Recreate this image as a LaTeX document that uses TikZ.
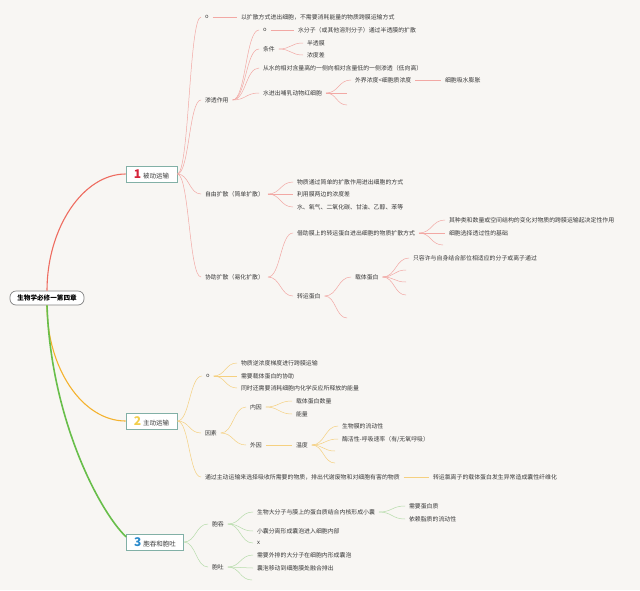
\documentclass[tikz,border=0pt]{standalone}
\usepackage{fontspec}
\setmainfont{Noto Sans CJK SC}
\usepackage{tikz}
\usetikzlibrary{calc}
\usepackage{xcolor}
\definecolor{bgPaper}{RGB}{248, 246, 243}
\definecolor{inkGray}{RGB}{58, 58, 58}
\definecolor{rootFrame}{RGB}{130, 130, 130}
\definecolor{boxFrame}{RGB}{130, 176, 166}
\definecolor{rootRed}{RGB}{238, 108, 96}
\definecolor{rootOrange}{RGB}{244, 178, 46}
\definecolor{rootGreen}{RGB}{104, 190, 74}
\definecolor{lnRed}{RGB}{242, 168, 164}
\definecolor{lnYellow}{RGB}{245, 208, 128}
\definecolor{lnGreen}{RGB}{182, 220, 170}
\definecolor{numA}{RGB}{214, 36, 58}
\definecolor{numB}{RGB}{242, 206, 76}
\definecolor{numC}{RGB}{42, 138, 203}
\newcommand{\numtag}[2]{\textcolor{#1}{\fontsize{12}{12}\selectfont\bfseries #2}}

\begin{document}
\begin{tikzpicture}[x=1pt, y=-1pt,
  leaf/.style={anchor=west, inner sep=1pt, outer xsep=3pt,
    font=\fontsize{5.9}{7}\selectfont, text=inkGray},
  topic/.style={draw=boxFrame, fill=white, line width=0.7pt, minimum height=16pt,
    inner xsep=3pt, inner ysep=1pt, font=\fontsize{6.5}{8}\selectfont, text=inkGray},
  link/.style={line width=0.5pt,
    to path={.. controls ($(\tikztostart)!0.5!(\tikztostart -| \tikztotarget)$)
      and ($(\tikztotarget)!0.5!(\tikztotarget -| \tikztostart)$) .. (\tikztotarget)}}]
  \fill[bgPaper] (0,0) rectangle (640,590);
  \useasboundingbox (0,0) rectangle (640,590);

  \node[draw=rootFrame, fill=white, rounded corners=6pt, line width=0.7pt,
    minimum width=74pt, minimum height=14pt, inner sep=1pt,
    font=\fontsize{6.6}{8}\selectfont\bfseries, text=black] (root) at (47,298) {生物学必修一第四章};

  \node[topic, minimum width=51pt] (pas) at (151.5,174) {\numtag{numA}{1}\,\,被动运输};
  \node[topic, minimum width=51pt] (act) at (151.5,421) {\numtag{numB}{2}\,\,主动运输};
  \node[topic, minimum width=57pt] (cyt) at (155,542) {\numtag{numC}{3}\,\,胞吞和胞吐};

  \draw[rootRed, line width=1.1pt] (root.north) .. controls (47,228) and (83,174) .. (pas.west);
  \draw[rootOrange, line width=1.1pt] (root.south) .. controls (47,369) and (83,421) .. (act.west);
  \draw[rootGreen, line width=1.6pt] (root.south) .. controls (51,420) and (100,512) .. (cyt.170);

  % 被动运输
  \node[leaf] (p1) at (201,17) {o};
  \node[leaf] (p1a) at (237,17) {以扩散方式进出细胞，不需要消耗能量的物质跨膜运输方式};
  \node[leaf] (osm) at (201,100) {渗透作用};
  \node[leaf] (osmO) at (259,30) {o};
  \node[leaf] (osmO1) at (294,30) {水分子（或其他溶剂分子）通过半透膜的扩散};
  \node[leaf] (cond) at (259,49) {条件};
  \node[leaf] (cond1) at (303,43) {半透膜};
  \node[leaf] (cond2) at (303,55) {浓度差};
  \node[leaf] (osmDir) at (259,68) {从水的相对含量高的一侧向相对含量低的一侧渗透（低向高）};
  \node[leaf] (rbc) at (259,93) {水进出哺乳动物红细胞};
  \node[leaf] (rbc1) at (351,80) {外界浓度<细胞质浓度};
  \node[leaf] (rbc1a) at (441,80) {细胞吸水膨胀};
  \coordinate (rbcE1) at (347,93);
  \coordinate (rbcE2) at (347,105);
  \node[leaf] (free) at (201,194) {自由扩散（简单扩散）};
  \node[leaf] (free1) at (293,182) {物质通过简单的扩散作用进出细胞的方式};
  \node[leaf] (free2) at (293,194) {利用膜两边的浓度差};
  \node[leaf] (free3) at (293,207) {水、氧气、二氧化碳、甘油、乙醇、苯等};
  \node[leaf] (fac) at (201,277) {协助扩散（易化扩散）};
  \node[leaf] (fac1) at (293,233) {借助膜上的转运蛋白进出细胞的物质扩散方式};
  \node[leaf] (fac1a) at (445,220) {其种类和数量或空间结构的变化对物质的跨膜运输起决定性作用};
  \node[leaf] (fac1b) at (445,233) {细胞选择透过性的基础};
  \coordinate (fac1E) at (443,245);
  \node[leaf] (fac2) at (293,296) {转运蛋白};
  \node[leaf] (carrier) at (351,277) {载体蛋白};
  \node[leaf] (carrier1) at (409,258) {只容许与自身结合部位相适应的分子或离子通过};
  \coordinate (carE1) at (406,270);
  \coordinate (carE2) at (406,282);
  \coordinate (carE3) at (406,295);
  \coordinate (fac2E) at (347,318);

  \draw[link, lnRed] (pas.east) to (p1.west);
  \draw[link, lnRed] (pas.east) to (osm.west);
  \draw[link, lnRed] (pas.east) to (free.west);
  \draw[link, lnRed] (pas.east) to (fac.west);
  \draw[link, lnRed] (p1.east) to (p1a.west);
  \draw[link, lnRed] (osm.east) to (osmO.west);
  \draw[link, lnRed] (osm.east) to (cond.west);
  \draw[link, lnRed] (osm.east) to (osmDir.west);
  \draw[link, lnRed] (osm.east) to (rbc.west);
  \draw[link, lnRed] (osmO.east) to (osmO1.west);
  \draw[link, lnRed] (cond.east) to (cond1.west);
  \draw[link, lnRed] (cond.east) to (cond2.west);
  \draw[link, lnRed] (rbc.east) to (rbc1.west);
  \draw[link, lnRed] (rbc.east) to (rbcE1);
  \draw[link, lnRed] (rbc.east) to (rbcE2);
  \draw[link, lnRed] (rbc1.east) to (rbc1a.west);
  \draw[link, lnRed] (free.east) to (free1.west);
  \draw[link, lnRed] (free.east) to (free2.west);
  \draw[link, lnRed] (free.east) to (free3.west);
  \draw[link, lnRed] (fac.east) to (fac1.west);
  \draw[link, lnRed] (fac.east) to (fac2.west);
  \draw[link, lnRed] (fac1.east) to (fac1a.west);
  \draw[link, lnRed] (fac1.east) to (fac1b.west);
  \draw[link, lnRed] (fac1.east) to (fac1E);
  \draw[link, lnRed] (fac2.east) to (carrier.west);
  \draw[link, lnRed] (fac2.east) to (fac2E);
  \draw[link, lnRed] (carrier.east) to (carrier1.west);
  \draw[link, lnRed] (carrier.east) to (carE1);
  \draw[link, lnRed] (carrier.east) to (carE2);
  \draw[link, lnRed] (carrier.east) to (carE3);

  % 主动运输
  \node[leaf] (act1) at (202,376) {o};
  \node[leaf] (act1a) at (237,363) {物质逆浓度梯度进行跨膜运输};
  \node[leaf] (act1b) at (237,376) {需要载体蛋白的协助};
  \node[leaf] (act1c) at (237,388) {同时还需要消耗细胞内化学反应所释放的能量};
  \node[leaf] (fact) at (201,433) {因素};
  \node[leaf] (inner) at (246,407) {内因};
  \node[leaf] (inner1) at (292,401) {载体蛋白数量};
  \node[leaf] (inner2) at (292,414) {能量};
  \node[leaf] (outer) at (246,445) {外因};
  \node[leaf] (temp) at (292,445) {温度};
  \node[leaf] (temp1) at (338,426) {生物膜的流动性};
  \node[leaf] (temp2) at (338,439) {酶活性-呼吸速率（有/无氧呼吸）};
  \coordinate (tempE1) at (335,451);
  \coordinate (tempE2) at (335,463);
  \node[leaf] (act3) at (201,477) {通过主动运输来选择吸收所需要的物质，排出代谢废物和对细胞有害的物质};
  \node[leaf] (act3a) at (429,477) {转运氯离子的载体蛋白发生异常造成囊性纤维化};

  \draw[link, lnYellow] (act.east) to (act1.west);
  \draw[link, lnYellow] (act.east) to (fact.west);
  \draw[link, lnYellow] (act.east) to (act3.west);
  \draw[link, lnYellow] (act1.east) to (act1a.west);
  \draw[link, lnYellow] (act1.east) to (act1b.west);
  \draw[link, lnYellow] (act1.east) to (act1c.west);
  \draw[link, lnYellow] (fact.east) to (inner.west);
  \draw[link, lnYellow] (fact.east) to (outer.west);
  \draw[link, lnYellow] (inner.east) to (inner1.west);
  \draw[link, lnYellow] (inner.east) to (inner2.west);
  \draw[link, lnYellow] (outer.east) to (temp.west);
  \draw[link, lnYellow] (temp.east) to (temp1.west);
  \draw[link, lnYellow] (temp.east) to (temp2.west);
  \draw[link, lnYellow] (temp.east) to (tempE1);
  \draw[link, lnYellow] (temp.east) to (tempE2);
  \draw[link, lnYellow] (act3.east) to (act3a.west);

  % 胞吞和胞吐
  \node[leaf] (endo) at (208,524) {胞吞};
  \node[leaf] (endo1) at (253,512) {生物大分子与膜上的蛋白质结合内核形成小囊};
  \node[leaf] (endo1a) at (405,506) {需要蛋白质};
  \node[leaf] (endo1b) at (405,519) {依赖脂质的流动性};
  \node[leaf] (endo2) at (253,531) {小囊分离形成囊泡进入细胞内部};
  \node[leaf] (endo3) at (253,543) {x};
  \node[leaf] (exo) at (208,567) {胞吐};
  \node[leaf] (exo1) at (253,555) {需要外排的大分子在细胞内形成囊泡};
  \node[leaf] (exo2) at (253,568) {囊泡移动到细胞膜处融合排出};
  \coordinate (exoE) at (252,580);

  \draw[link, lnGreen] (cyt.east) to (endo.west);
  \draw[link, lnGreen] (cyt.east) to (exo.west);
  \draw[link, lnGreen] (endo.east) to (endo1.west);
  \draw[link, lnGreen] (endo.east) to (endo2.west);
  \draw[link, lnGreen] (endo.east) to (endo3.west);
  \draw[link, lnGreen] (endo1.east) to (endo1a.west);
  \draw[link, lnGreen] (endo1.east) to (endo1b.west);
  \draw[link, lnGreen] (exo.east) to (exo1.west);
  \draw[link, lnGreen] (exo.east) to (exo2.west);
  \draw[link, lnGreen] (exo.east) to (exoE);
\end{tikzpicture}
\end{document}
